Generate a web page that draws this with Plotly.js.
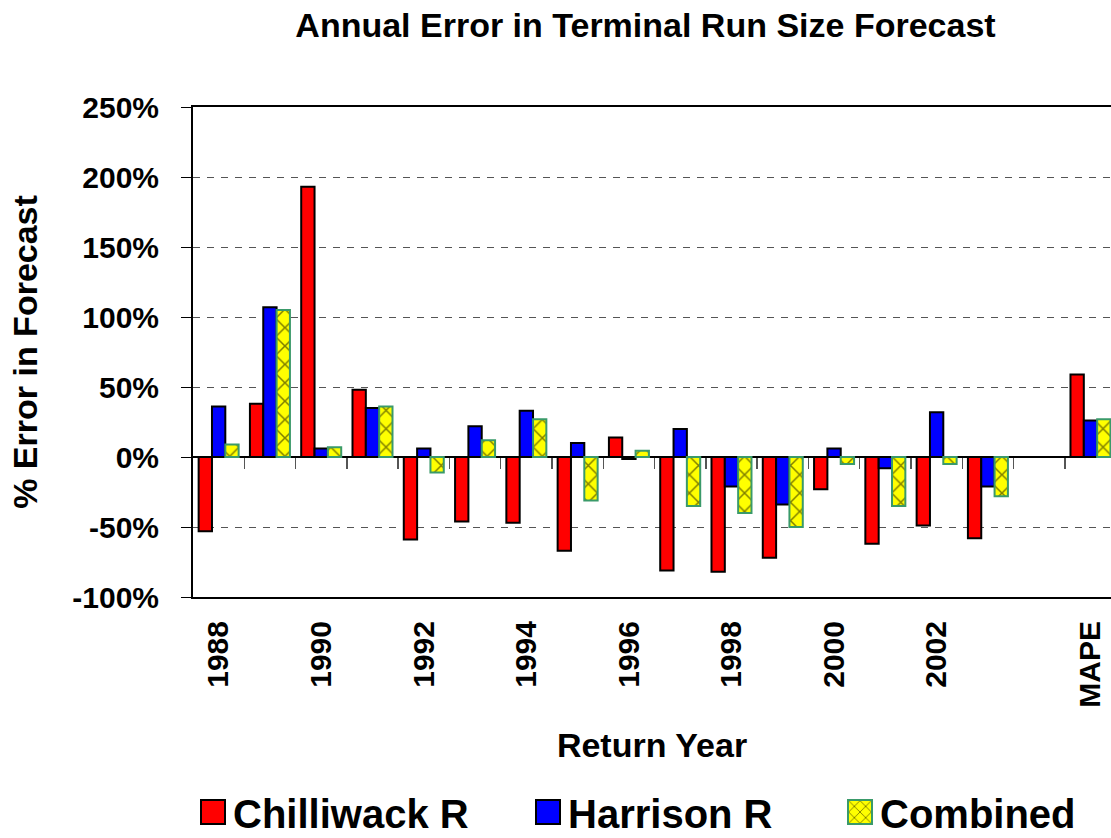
<!DOCTYPE html>
<html>
<head>
<meta charset="utf-8">
<script src="https://cdn.plot.ly/plotly-3.0.1.min.js"></script>
<style>html,body{margin:0;padding:0;background:#fff;}#chart{width:1111px;height:838px;}</style>
</head>
<body>
<div id="chart"></div>
<script>
// Data (percent error in forecast)
var categories = ['1988','1989','1990','1991','1992','1993','1994','1995','1996','1997','1998','1999','2000','2001','2002','2003',' ','MAPE'];
var tickLabels = ['1988','1990','1992','1994','1996','1998','2000','2002','MAPE'];
var yTickVals  = [-100, -50, 0, 50, 100, 150, 200, 250];
var yTickText  = ['-100%', '-50%', '0%', '50%', '100%', '150%', '200%', '250%'];
var chilliwack = [-53, 38, 193, 48, -59, -46, -47, -67, 14, -81, -82, -72, -23, -62, -49, -58, null, 59];
var harrison   = [36, 107, 6, 35, 6, 22, 33, 10, -1.5, 20, -21, -34, 6, -8, 32, -21, null, 26];
var combined   = [9, 105, 7, 36, -11, 12, 27, -31, 4.5, -35, -40, -50, -5, -35, -5, -28, null, 27];
var seriesNames = ['Chilliwack R', 'Harrison R', 'Combined'];

var FONT = 'Liberation Sans, Arial, Helvetica, sans-serif';

var traces = [
  {type:'bar', name:seriesNames[0], x:categories, y:chilliwack, legendwidth:290,
   marker:{color:'#FF0000', line:{color:'#000000', width:2}}},
  {type:'bar', name:seriesNames[1], x:categories, y:harrison, legendwidth:267,
   marker:{color:'#0000FF', line:{color:'#000000', width:2}}},
  {type:'bar', name:seriesNames[2], x:categories, y:combined, legendwidth:200,
   marker:{color:'#FFFF00', line:{color:'#3A9A6A', width:2},
           pattern:{shape:'x', fgcolor:'#000000', bgcolor:'#FFFF00', size:13, solidity:0.22, fillmode:'overlay'}}},
  // empty helper trace so the zero-line tick axis (x2) is drawn
  {type:'scatter', x:[], y:[], xaxis:'x2', yaxis:'y', showlegend:false, hoverinfo:'skip'}
];

var yMin = yTickVals[0], yMax = yTickVals[yTickVals.length - 1];
var boundaries = [];
for (var i = 0; i < categories.length - 1; i++) boundaries.push(i + 0.5);
var xRange = [-0.5, 17.4];

var layout = {
  width:1111, height:838,
  margin:{l:193, r:0, t:107, b:241},
  paper_bgcolor:'#FFFFFF', plot_bgcolor:'#FFFFFF',
  font:{family:FONT, color:'#000000', weight:'bold'},
  showlegend:true,
  barmode:'group', bargap:0.22, bargroupgap:0,
  title:{text:'Annual Error in Terminal Run Size Forecast',
         font:{family:FONT, size:34, weight:'bold', color:'#000'},
         xref:'container', x:0.581, xanchor:'center', yref:'container', y:0.97, yanchor:'middle'},
  xaxis:{type:'category', categoryorder:'array', categoryarray:categories,
         range:xRange, tickmode:'array', tickvals:tickLabels, ticktext:tickLabels,
         tickangle:-90, ticks:'', showgrid:false, zeroline:false,
         showline:true, linecolor:'#000', linewidth:2, mirror:true,
         tickfont:{family:FONT, size:30, weight:'bold', color:'#000'},
         ticklabelstandoff:10,
         title:{text:'Return Year', font:{family:FONT, size:34, weight:'bold', color:'#000'}, standoff:27}},
  xaxis2:{overlaying:'x', anchor:'free', position:(0 - yMin)/(yMax - yMin), type:'linear',
          range:xRange, tickmode:'array', tickvals:boundaries,
          ticks:'outside', ticklen:11, tickcolor:'#555', tickwidth:1.5,
          showticklabels:false, showgrid:false, zeroline:false, showline:false},
  yaxis:{range:[yMin, yMax], tickmode:'array', tickvals:yTickVals, ticktext:yTickText,
         ticks:'outside', ticklen:10, tickcolor:'#000', tickwidth:1,
         showline:true, linecolor:'#000', linewidth:2, mirror:false,
         showgrid:true, gridcolor:'#555', gridwidth:1, griddash:'7px,7px',
         zeroline:true, zerolinecolor:'#000', zerolinewidth:1.5,
         tickfont:{family:FONT, size:30, weight:'bold', color:'#000'},
         ticklabelstandoff:16,
         title:{text:'% Error in Forecast', font:{family:FONT, size:34, weight:'bold', color:'#000'}, standoff:24}},
  legend:{orientation:'h', xref:'paper', x:0, xanchor:'left', yref:'container', y:0.031, yanchor:'middle',
          font:{family:FONT, size:40, weight:'bold', color:'#000'}, bgcolor:'rgba(0,0,0,0)'}
};

var gd = document.getElementById('chart');
Plotly.newPlot(gd, traces, layout, {displayModeBar:false, staticPlot:true}).then(function(){
  var paths = gd.querySelectorAll('.legend .legendpoints path');
  paths.forEach(function(p){ p.setAttribute('d','M12,12H-12V-12H12Z'); });
});
</script>
</body>
</html>
